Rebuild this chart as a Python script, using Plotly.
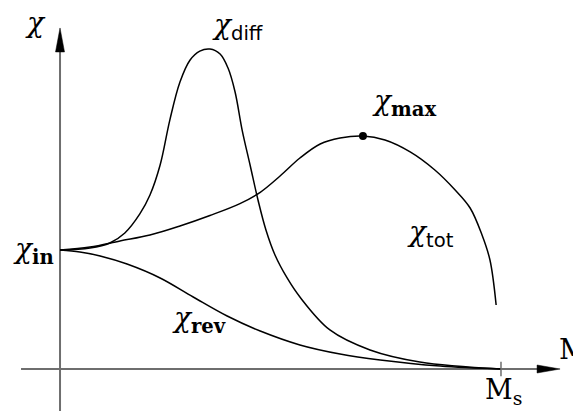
import plotly.graph_objects as go

# Magnetisation in percent of saturation (Ms = 100), susceptibility in units of chi_in
M_diff = [0, 6.8, 11.3, 14.7, 18.1, 20.4, 22.7, 24.9, 27.2, 29.5, 31.7, 34.0, 36.3,
          38.1, 39.7, 41.3, 43.1, 44.9, 46.7, 48.75, 51.5, 54.4, 61.2, 70.3, 81.6, 100]
chi_diff = [1.000, 1.017, 1.059, 1.143, 1.303, 1.462, 1.714, 2.092, 2.412, 2.597, 2.672,
            2.689, 2.647, 2.529, 2.328, 2.008, 1.714, 1.420, 1.168, 0.958, 0.765,
            0.605, 0.328, 0.160, 0.059, 0.0]

M_tot = [0, 6.8, 13.6, 20.4, 27.2, 34.0, 40.8, 45.4, 49.9, 54.4, 59.0, 63.5, 68.7,
         73.7, 79.4, 85.0, 89.6, 93.0, 95.7, 97.5, 98.9]
chi_tot = [1.000, 1.025, 1.076, 1.126, 1.202, 1.290, 1.390, 1.485, 1.622, 1.773, 1.891,
           1.941, 1.958, 1.924, 1.824, 1.672, 1.504, 1.353, 1.126, 0.916, 0.538]

M_rev = [0, 4.5, 9.1, 15.2, 22.7, 30.2, 37.9, 45.4, 54.4, 63.5, 72.6, 86.2, 100]
chi_rev = [1.000, 0.983, 0.950, 0.882, 0.765, 0.605, 0.445, 0.319, 0.202, 0.126,
           0.076, 0.025, 0.0]

M_max, chi_max = 68.7, 1.958
M_sat = 100
chi_in = 1.0

X_RANGE = [-13.61, 116.33]
Y_RANGE = [-0.353, 3.101]

SERIF = "DejaVu Serif"
CURVE = dict(color="black", width=1.5, shape="spline", smoothing=1.0)
AXIS_COLOR = "#6e6e6e"

fig = go.Figure()
for xs, ys in [(M_diff, chi_diff), (M_tot, chi_tot), (M_rev, chi_rev)]:
    fig.add_trace(go.Scatter(x=xs, y=ys, mode="lines", line=CURVE, hoverinfo="skip"))

fig.add_trace(go.Scatter(x=[M_max], y=[chi_max], mode="markers",
                         marker=dict(color="black", size=8), hoverinfo="skip"))

shapes = [
    # horizontal axis
    dict(type="line", xref="x", yref="y", x0=-8.84, x1=110, y0=0, y1=0,
         line=dict(color=AXIS_COLOR, width=2), layer="below"),
    # vertical axis
    dict(type="line", xref="x", yref="y", x0=0, x1=0, y0=-0.40, y1=2.70,
         line=dict(color=AXIS_COLOR, width=2), layer="below"),
    # Ms tick
    dict(type="line", xref="x", yref="y", x0=M_sat, x1=M_sat, y0=-0.06, y1=0.06,
         line=dict(color=AXIS_COLOR, width=1.5)),
    # arrow heads
    dict(type="path", xref="x", yref="y", xsizemode="pixel", ysizemode="pixel",
         xanchor=113.4, yanchor=0, path="M 0 0 L -23 4 L -23 -4 Z",
         fillcolor="black", line=dict(color="black", width=0.5)),
    dict(type="path", xref="x", yref="y", xsizemode="pixel", ysizemode="pixel",
         xanchor=0, yanchor=2.866, path="M 0 0 L -4.5 -24 L 4.5 -24 Z",
         fillcolor="black", line=dict(color="black", width=0.5)),
]


def label(x, y, text, anchor="left", size=28):
    return dict(x=x, y=y, xref="x", yref="y", text=text, showarrow=False,
                xanchor=anchor, yanchor="middle",
                font=dict(family=SERIF, size=size, color="black"))


annotations = [
    label(-5.67, 2.91, "<i>χ</i>", anchor="center"),
    label(-0.9, chi_in, "<i>χ</i><sub><b>in</b></sub>", anchor="right"),
    label(34.0, 2.88, "<i>χ</i><sub><span style='font-family:DejaVu Sans'>diff</span></sub>"),
    label(70.3, 2.24, "<i>χ</i><sub><b>max</b></sub>"),
    label(78.2, 1.14, "<i>χ</i><sub><span style='font-family:DejaVu Sans'>tot</span></sub>"),
    label(25.0, 0.42, "<i>χ</i><sub><b>rev</b></sub>"),
    label(112.6, 0.16, "M", size=28),
    label(M_sat + 0.5, -0.19, "M<sub>s</sub>", anchor="center", size=27),
]

fig.update_layout(
    width=573, height=411,
    margin=dict(l=0, r=0, t=0, b=0),
    paper_bgcolor="white", plot_bgcolor="white",
    showlegend=False,
    xaxis=dict(range=X_RANGE, visible=False, fixedrange=True),
    yaxis=dict(range=Y_RANGE, visible=False, fixedrange=True),
    shapes=shapes,
    annotations=annotations,
)

fig.write_html("out.html")
